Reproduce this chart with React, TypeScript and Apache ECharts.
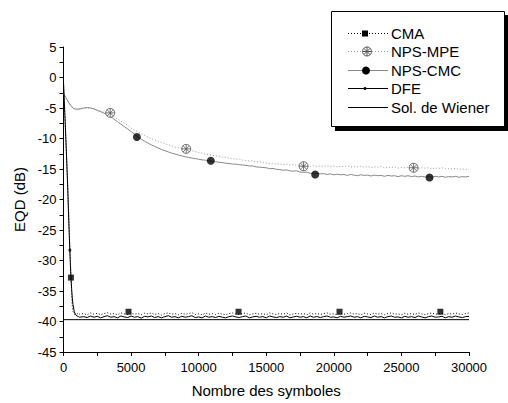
import React, { useEffect, useRef } from "react";
import * as echarts from "echarts";

const FONT = '"Liberation Sans", Arial, Helvetica, sans-serif';

// ---------- data ----------
const xTicks = [0, 5000, 10000, 15000, 20000, 25000, 30000];
const yTicks = [5, 0, -5, -10, -15, -20, -25, -30, -35, -40, -45];

// fast converging curves (CMA, DFE): dense early x, then step 250 from 1500
const fastEarlyX = [0, 100, 200, 300, 400, 450, 500, 550, 600, 650, 700, 800, 900, 1000, 1100, 1200];
const cmaEarly = [-1, -6, -11.5, -17, -23, -26.3, -29.5, -32.8, -35.5, -37.5, -38.4, -38.8, -38.7, -38.8, -38.6, -38.8];
const dfeEarly = [-0.8, -6, -11.5, -17.3, -24.3, -27.3, -30.2, -32.6, -34.6, -36.1, -37.2, -38.4, -38.9, -39.1, -39.2, -39.3];

const cmaSteady = [
  -38.7, -38.9, -38.6, -38.8, -38.65, -38.9, -38.7, -38.55, -38.8, -38.7,
  -38.9, -38.6, -38.75, -38.85, -38.6, -38.8, -38.7, -38.9, -38.65, -38.75,
  -38.6, -38.85, -38.7, -38.95, -38.7, -38.6, -38.8, -38.7, -38.9, -38.65,
  -38.8, -38.7, -38.55, -38.85, -38.75, -38.9, -38.6, -38.8, -38.7, -38.85,
  -38.65, -38.8, -38.9, -38.7, -38.6, -38.75, -38.85, -38.7, -38.6, -38.9,
  -38.75, -38.65, -38.8, -38.7, -38.9, -38.6, -38.75, -38.85, -38.7, -38.8,
  -38.6, -38.9, -38.75, -38.65, -38.8, -38.7, -38.9, -38.6, -38.8, -38.7,
  -38.85, -38.7, -38.6, -38.8, -38.75, -38.9, -38.65, -38.8, -38.7, -38.6,
  -38.8, -38.7, -38.9, -38.65, -38.75, -38.85, -38.6, -38.8, -38.7, -38.9,
  -38.7, -38.6, -38.8, -38.75, -38.9, -38.65, -38.8, -38.7, -38.85, -38.6,
  -38.75, -38.9, -38.7, -38.6, -38.8, -38.75, -38.65, -38.9, -38.7, -38.8,
  -38.6, -38.75, -38.85, -38.7, -38.6,
];

const dfeSteady = [
  -39.2, -39.35, -39.1, -39.3, -39.15, -39.4, -39.2, -39.05, -39.3, -39.2,
  -39.4, -39.1, -39.25, -39.35, -39.1, -39.3, -39.2, -39.45, -39.15, -39.25,
  -39.1, -39.35, -39.2, -39.4, -39.2, -39.05, -39.3, -39.2, -39.4, -39.15,
  -39.3, -39.2, -39.05, -39.35, -39.25, -39.4, -39.1, -39.3, -39.2, -39.35,
  -39.15, -39.3, -39.4, -39.2, -39.1, -39.25, -39.35, -39.2, -39.1, -39.4,
  -39.25, -39.15, -39.3, -39.2, -39.4, -39.1, -39.25, -39.35, -39.2, -39.3,
  -39.1, -39.4, -39.25, -39.15, -39.3, -39.2, -39.4, -39.1, -39.3, -39.2,
  -39.35, -39.2, -39.1, -39.3, -39.25, -39.4, -39.15, -39.3, -39.2, -39.1,
  -39.3, -39.2, -39.4, -39.15, -39.25, -39.35, -39.1, -39.3, -39.2, -39.4,
  -39.2, -39.1, -39.3, -39.25, -39.4, -39.15, -39.3, -39.2, -39.35, -39.1,
  -39.25, -39.4, -39.2, -39.1, -39.3, -39.25, -39.15, -39.4, -39.2, -39.3,
  -39.1, -39.25, -39.35, -39.2, -39.15,
];

// slow curves (NPS): step 250 from 0 to 30000
const npsCmcY = [
  -2.6, -3.6, -4.5, -5.1, -5.2, -5.15, -5.0, -4.95, -5.0, -5.15,
  -5.4, -5.6, -5.85, -6.1, -6.45, -6.85, -7.25, -7.65, -8.05, -8.45,
  -8.85, -9.3, -9.75, -10.1, -10.45, -10.75, -11.05, -11.3, -11.55, -11.8,
  -12.0, -12.2, -12.4, -12.55, -12.7, -12.85, -13.0, -13.1, -13.2, -13.3,
  -13.4, -13.5, -13.55, -13.65, -13.75, -13.8, -13.9, -13.95, -14.05, -14.1,
  -14.2, -14.2, -14.3, -14.35, -14.4, -14.5, -14.5, -14.65, -14.7, -14.75,
  -14.8, -14.95, -14.9, -15.05, -15.1, -15.2, -15.15, -15.3, -15.35, -15.3,
  -15.5, -15.55, -15.5, -15.7, -15.75, -15.7, -15.8, -15.75, -15.9, -15.8,
  -15.95, -15.85, -15.95, -15.9, -16.05, -15.9, -16.0, -16.1, -15.95, -16.05,
  -16.0, -16.15, -16.0, -16.1, -16.05, -16.2, -16.05, -16.15, -16.1, -16.25,
  -16.1, -16.2, -16.1, -16.25, -16.15, -16.3, -16.2, -16.3, -16.25, -16.35,
  -16.2, -16.3, -16.2, -16.35, -16.25, -16.3, -16.2, -16.35, -16.25, -16.3,
  -16.2,
];

const npsMpeY = [
  -2.6, -3.6, -4.5, -5.1, -5.2, -5.15, -5.0, -4.95, -5.0, -5.15,
  -5.35, -5.5, -5.7, -5.9, -6.15, -6.45, -6.8, -7.15, -7.5, -7.85,
  -8.3, -8.6, -8.9, -9.2, -9.5, -9.75, -10.0, -10.25, -10.45, -10.65,
  -10.85, -11.05, -11.2, -11.4, -11.5, -11.65, -11.75, -11.9, -12.0, -12.15,
  -12.3, -12.4, -12.55, -12.6, -12.75, -12.85, -12.9, -13.05, -13.05, -13.2,
  -13.25, -13.4, -13.35, -13.55, -13.6, -13.7, -13.65, -13.85, -13.8, -13.95,
  -14.0, -14.1, -14.05, -14.2, -14.15, -14.3, -14.2, -14.35, -14.3, -14.4,
  -14.35, -14.5, -14.4, -14.55, -14.45, -14.6, -14.5, -14.55, -14.45, -14.6,
  -14.5, -14.65, -14.55, -14.6, -14.5, -14.7, -14.6, -14.65, -14.55, -14.7,
  -14.6, -14.75, -14.65, -14.7, -14.6, -14.8, -14.7, -14.75, -14.65, -14.85,
  -14.75, -14.8, -14.7, -14.85, -14.75, -14.9, -14.8, -14.85, -14.8, -14.95,
  -14.85, -14.9, -14.8, -14.95, -14.9, -15.0, -14.9, -15.05, -15.0, -15.05,
  -15.1,
];

const wienerX = [0, 30000];
const wienerY = [-39.7, -39.7];

// marker positions
const cmaMarkX = [550, 4810, 12950, 20420, 27880];
const cmaMarkY = [-32.8, -38.4, -38.4, -38.4, -38.4];
const mpeMarkX = [3460, 9080, 17760, 25900];
const mpeMarkY = [-5.8, -11.7, -14.55, -14.8];
const cmcMarkX = [5430, 10900, 18620, 27080];
const cmcMarkY = [-9.75, -13.65, -15.9, -16.4];
const dfeMarkX = [470];
const dfeMarkY = [-28.3];

// ---------- helpers ----------
const stepGrid = (start: number, step: number, n: number) =>
  Array.from({ length: n }, (_, i) => start + i * step);
const zip = (xs: number[], ys: number[]) => xs.map((x, i) => [x, ys[i]]);

const fastX = fastEarlyX.concat(stepGrid(1500, 250, cmaSteady.length));
const cmaY = cmaEarly.concat(cmaSteady);
const dfeY = dfeEarly.concat(dfeSteady);
const npsX = stepGrid(0, 250, npsCmcY.length);

const STAR =
  "path://M0,-10A10,10,0,1,1,0,10A10,10,0,1,1,0,-10ZM0,-10L0,10M-10,0L10,0M-7,-7L7,7M7,-7L-7,7";

export default function App() {
  const ref = useRef<HTMLDivElement>(null);

  useEffect(() => {
    if (!ref.current) return;
    const chart = echarts.init(ref.current, undefined, { renderer: "svg" });

    const lx1 = 348;
    const lx2 = 388;
    const tx = 391;
    const rows = [33.5, 51.5, 70.5, 88.5, 107.5];
    const txt = (t: string, y: number) => ({
      type: "text",
      x: tx,
      y,
      style: {
        text: t,
        fontSize: 15,
        fontFamily: FONT,
        fill: "#000",
        verticalAlign: "middle",
        textVerticalAlign: "middle",
      },
    });

    const graphic: any[] = [
      { type: "rect", shape: { x: 335, y: 15, width: 174, height: 116 }, style: { fill: "#000" } },
      {
        type: "rect",
        shape: { x: 331.5, y: 11.5, width: 173, height: 115 },
        style: { fill: "#fff", stroke: "#000", lineWidth: 1 },
      },
      // CMA
      { type: "line", shape: { x1: lx1, y1: rows[0], x2: lx2, y2: rows[0] }, style: { stroke: "#000", lineWidth: 1, lineDash: [1, 2] } },
      { type: "rect", shape: { x: 362, y: rows[0] - 3, width: 6, height: 6 }, style: { fill: "#000" } },
      txt("CMA", rows[0]),
      // NPS-MPE
      { type: "line", shape: { x1: lx1, y1: rows[1], x2: lx2, y2: rows[1] }, style: { stroke: "#999", lineWidth: 1, lineDash: [1, 2] } },
      { type: "circle", shape: { cx: 367, cy: rows[1], r: 4.5 }, style: { fill: "#fff", stroke: "#555", lineWidth: 1 } },
      { type: "line", shape: { x1: 367, y1: rows[1] - 4.5, x2: 367, y2: rows[1] + 4.5 }, style: { stroke: "#555", lineWidth: 1 } },
      { type: "line", shape: { x1: 362.5, y1: rows[1], x2: 371.5, y2: rows[1] }, style: { stroke: "#555", lineWidth: 1 } },
      { type: "line", shape: { x1: 363.8, y1: rows[1] - 3.2, x2: 370.2, y2: rows[1] + 3.2 }, style: { stroke: "#555", lineWidth: 1 } },
      { type: "line", shape: { x1: 370.2, y1: rows[1] - 3.2, x2: 363.8, y2: rows[1] + 3.2 }, style: { stroke: "#555", lineWidth: 1 } },
      txt("NPS-MPE", rows[1]),
      // NPS-CMC
      { type: "line", shape: { x1: lx1, y1: rows[2], x2: lx2, y2: rows[2] }, style: { stroke: "#888", lineWidth: 1 } },
      { type: "circle", shape: { cx: 366, cy: rows[2], r: 4 }, style: { fill: "#000" } },
      txt("NPS-CMC", rows[2]),
      // DFE
      { type: "line", shape: { x1: lx1, y1: rows[3], x2: lx2, y2: rows[3] }, style: { stroke: "#000", lineWidth: 1 } },
      { type: "circle", shape: { cx: 365, cy: rows[3], r: 1.5 }, style: { fill: "#000" } },
      txt("DFE", rows[3]),
      // Wiener
      { type: "line", shape: { x1: lx1, y1: rows[4], x2: lx2, y2: rows[4] }, style: { stroke: "#000", lineWidth: 1 } },
      txt("Sol. de Wiener", rows[4]),
    ];

    const option: any = {
      animation: false,
      backgroundColor: "#fff",
      textStyle: { fontFamily: FONT },
      grid: { left: 63.5, right: 39, top: 47, bottom: 46, containLabel: false },
      xAxis: {
        type: "value",
        min: xTicks[0],
        max: xTicks[xTicks.length - 1],
        interval: 5000,
        name: "Nombre des symboles",
        nameLocation: "middle",
        nameGap: 31,
        nameTextStyle: { fontSize: 15, color: "#000", fontFamily: FONT },
        axisLine: { show: true, onZero: false, lineStyle: { color: "#000", width: 1 } },
        axisTick: { show: true, inside: false, length: 4, lineStyle: { color: "#000" } },
        minorTick: { show: true, splitNumber: 2, length: 4, lineStyle: { color: "#000" } },
        splitLine: { show: false },
        axisLabel: {
          fontSize: 13,
          color: "#000",
          margin: 9,
          fontFamily: FONT,
          formatter: (v: number) => String(v),
        },
      },
      yAxis: {
        type: "value",
        min: yTicks[yTicks.length - 1],
        max: yTicks[0],
        interval: 5,
        name: "EQD (dB)",
        nameLocation: "middle",
        nameGap: 36,
        nameRotate: 90,
        nameTextStyle: { fontSize: 15, color: "#000", fontFamily: FONT },
        axisLine: { show: true, onZero: false, lineStyle: { color: "#000", width: 1 } },
        axisTick: { show: true, inside: false, length: 4, lineStyle: { color: "#000" } },
        minorTick: { show: true, splitNumber: 2, length: 4, lineStyle: { color: "#000" } },
        splitLine: { show: false },
        axisLabel: {
          fontSize: 13,
          color: "#000",
          margin: 7,
          fontFamily: FONT,
          formatter: (v: number) => String(v),
        },
      },
      series: [
        {
          name: "NPS-MPE",
          type: "line",
          data: zip(npsX, npsMpeY),
          showSymbol: false,
          symbol: "none",
          lineStyle: { color: "#999", width: 1, type: [1, 2] },
          z: 2,
        },
        {
          name: "NPS-CMC",
          type: "line",
          data: zip(npsX, npsCmcY),
          showSymbol: false,
          symbol: "none",
          lineStyle: { color: "#888", width: 1 },
          z: 2,
        },
        {
          name: "CMA",
          type: "line",
          data: zip(fastX, cmaY),
          showSymbol: false,
          symbol: "none",
          lineStyle: { color: "#000", width: 1, type: [1, 2] },
          z: 3,
        },
        {
          name: "DFE",
          type: "line",
          data: zip(fastX, dfeY),
          showSymbol: false,
          symbol: "none",
          lineStyle: { color: "#000", width: 1 },
          z: 3,
        },
        {
          name: "Sol. de Wiener",
          type: "line",
          data: zip(wienerX, wienerY),
          showSymbol: false,
          symbol: "none",
          lineStyle: { color: "#000", width: 1 },
          z: 4,
        },
        {
          type: "scatter",
          data: zip(cmaMarkX, cmaMarkY),
          symbol: "rect",
          symbolSize: 6,
          itemStyle: { color: "#000" },
          z: 5,
        },
        {
          type: "scatter",
          data: zip(mpeMarkX, mpeMarkY),
          symbol: STAR,
          symbolSize: 9,
          itemStyle: { color: "#fff", borderColor: "#555", borderWidth: 1 },
          z: 5,
        },
        {
          type: "scatter",
          data: zip(cmcMarkX, cmcMarkY),
          symbol: "circle",
          symbolSize: 8,
          itemStyle: { color: "#000" },
          z: 5,
        },
        {
          type: "scatter",
          data: zip(dfeMarkX, dfeMarkY),
          symbol: "circle",
          symbolSize: 3,
          itemStyle: { color: "#000" },
          z: 5,
        },
      ],
      graphic,
    };

    chart.setOption(option);
    return () => chart.dispose();
  }, []);

  return (
    <div
      ref={ref}
      style={{ position: "fixed", left: 0, top: 0, width: 508, height: 403, background: "#fff" }}
    />
  );
}
